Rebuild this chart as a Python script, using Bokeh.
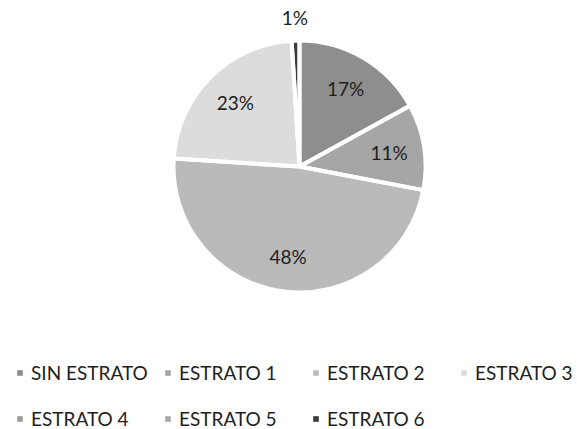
import numpy as np
from bokeh.plotting import figure
from bokeh.models import ColumnDataSource, Range1d, Legend, LegendItem
from bokeh.core.properties import value
from bokeh.embed import file_html
from bokeh.resources import INLINE

# ---- data ----
categories = ["SIN ESTRATO", "ESTRATO 1", "ESTRATO 2", "ESTRATO 3",
              "ESTRATO 4", "ESTRATO 5", "ESTRATO 6"]
percent = [17, 11, 48, 23, 0, 0, 1]
colors = ["#8e8e8e", "#a6a6a6", "#bababa", "#dcdcdc",
          "#9b9b9b", "#a9a9a9", "#3a3a3a"]

# ---- layout ----
W, H = 577, 429
CX, CY, R = 299, 429 - 166, 126
FONT = "Lato"
FS = "19px"

p = figure(width=W, height=H, x_range=Range1d(0, W), y_range=Range1d(0, H),
           output_backend="svg", toolbar_location=None, min_border=0)
p.axis.visible = False
p.grid.visible = False
p.outline_line_color = None
p.background_fill_color = "white"
p.border_fill_color = "white"

vals = np.array(percent, dtype=float)
frac = vals / vals.sum()
cum = np.concatenate([[0.0], np.cumsum(frac)])
start = np.pi / 2 - 2 * np.pi * cum[:-1]
end = np.pi / 2 - 2 * np.pi * cum[1:]
nz = vals > 0

full_src = ColumnDataSource(dict(cat=categories, start=start, end=end, color=colors))
draw_src = ColumnDataSource(dict(
    cat=[c for c, k in zip(categories, nz) if k],
    start=start[nz], end=end[nz],
    color=[c for c, k in zip(colors, nz) if k]))

# slices
p.wedge(x=CX, y=CY, radius=R, start_angle="start", end_angle="end",
        direction="clock", fill_color="color", line_color=None, source=draw_src)
# white separators
p.wedge(x=CX, y=CY, radius=R, start_angle="start", end_angle="end",
        direction="clock", fill_color=None, line_color="white", line_width=4,
        source=draw_src)
# legend-only renderer (zero size) carrying all category colours
lr = p.wedge(x=CX, y=CY, radius=0, start_angle="start", end_angle="end",
             direction="clock", fill_color="color", line_color=None,
             source=full_src)

# percentage labels
mid = (start + end) / 2
rr = np.where(frac < 0.03, 1.18 * R, 0.72 * R)
lab = ColumnDataSource(dict(
    x=(CX + rr * np.cos(mid))[nz],
    y=(CY + rr * np.sin(mid))[nz],
    t=[f"{int(v)}%" for v in vals[nz]],
))
p.text(x="x", y="y", text="t", source=lab, text_font=value(FONT),
       text_font_size=FS, text_color="#1e1e1e",
       text_align="center", text_baseline="middle")

items = [LegendItem(label=c, renderers=[lr], index=i) for i, c in enumerate(categories)]
legend = Legend(items=items, ncols=4, orientation="horizontal",
                location=(16, -8), glyph_width=7, glyph_height=7,
                label_standoff=8, label_width=125, label_height=38,
                spacing=8, padding=0, margin=0,
                border_line_color=None, background_fill_alpha=0,
                label_text_font=FONT, label_text_font_size=FS,
                label_text_color="#1e1e1e")
p.add_layout(legend)

open("out.html", "w").write(file_html(p, INLINE))
